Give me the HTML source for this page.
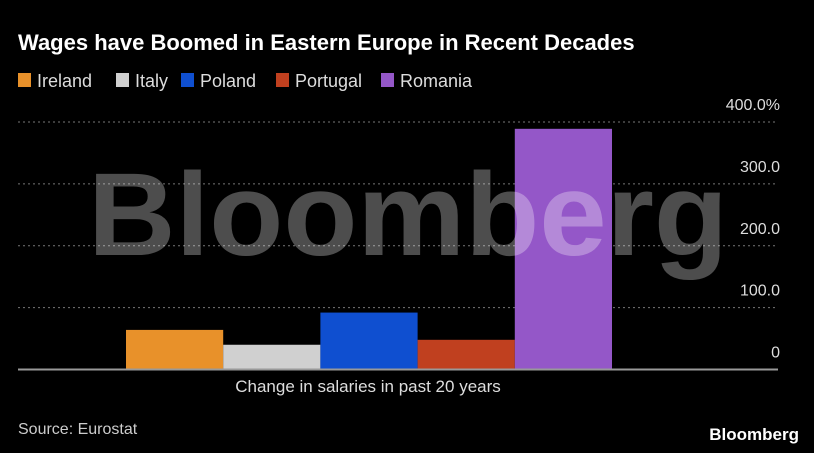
<!DOCTYPE html>
<html><head><meta charset="utf-8"><style>
body{margin:0;background:#000;width:814px;height:453px;overflow:hidden;font-family:"Liberation Sans",sans-serif;}
</style></head><body>
<svg id="c" width="814" height="453" style="position:absolute;left:0;top:0">
<rect width="814" height="453" fill="#000"/>
<text x="18" y="50" fill="#fff" font-size="22" font-weight="bold">Wages have Boomed in Eastern Europe in Recent Decades</text>
<g id="legend"></g>
<g id="grid"></g>
<g id="bars"></g>
<g id="ticks"></g>
<line x1="18" x2="778" y1="369.5" y2="369.5" stroke="#999" stroke-width="2"/>
<text x="368" y="392" fill="#ddd" font-size="17" text-anchor="middle">Change in salaries in past 20 years</text>
<text x="18" y="434" fill="#ccc" font-size="16">Source: Eurostat</text>
<text x="799" y="440" fill="#fff" font-size="17" font-weight="bold" text-anchor="end">Bloomberg</text>
<text x="408" y="255" fill="rgba(255,255,255,0.3)" font-size="118" font-weight="bold" text-anchor="middle" textLength="640" lengthAdjust="spacingAndGlyphs">Bloomberg</text>
</svg>
<script>
const categories=["Ireland","Italy","Poland","Portugal","Romania"];
const values=[64,40,92,48,389];
const colors=["#e8912a","#d0d0d0","#0f4fd0","#c0401f","#9457c8"];
const tickValues=[0,100,200,300,400];
const tickLabels=["0","100.0","200.0","300.0","400.0%"];
const ns="http://www.w3.org/2000/svg";
const y0=369.5,pxPer=(369.5-122)/400;
function yS(v){return y0-v*pxPer;}
function xS(i){return 126+i*97.2;}
function mk(t,a,p,txt){const e=document.createElementNS(ns,t);for(const k in a)e.setAttribute(k,a[k]);if(txt!==undefined)e.textContent=txt;p.appendChild(e);return e;}
const grid=document.getElementById('grid'),ticks=document.getElementById('ticks'),bars=document.getElementById('bars'),legend=document.getElementById('legend');
tickValues.forEach((v,i)=>{
 if(v>0){const l=mk('line',{x1:18,x2:778,y1:yS(v),y2:yS(v),stroke:'#777','stroke-dasharray':'2,3'},grid);
 
 }
 const t=mk('text',{x:780,y:yS(v)-12,fill:'#ddd','font-size':16,'text-anchor':'end'},ticks,tickLabels[i]);
 
 
});
categories.forEach((c,i)=>{
 const r=mk('rect',{x:xS(i),y:yS(values[i]),width:97.2,height:y0-yS(values[i]),fill:colors[i]},bars);
 
 
});
const lw=[0,98,163,258,363];
categories.forEach((c,i)=>{
 const x=18+lw[i];
 const s=mk('rect',{x:x,y:73,width:13,height:14,fill:colors[i]},legend);
 
 
 const t=mk('text',{x:x+19,y:87,fill:'#ddd','font-size':18},legend,c);
 
 
});
</script>
</body></html>
